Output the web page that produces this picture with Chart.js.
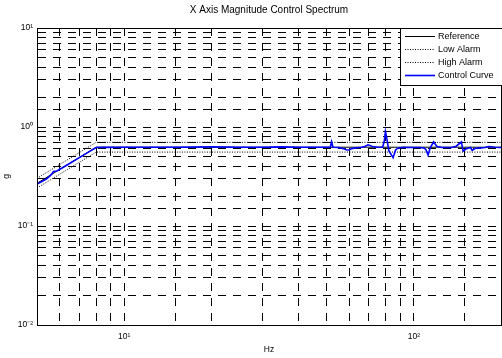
<!DOCTYPE html>
<html><head><meta charset="utf-8">
<style>html,body{margin:0;padding:0;background:#fff;overflow:hidden;}#wrap{width:502px;height:358px;overflow:hidden;}canvas{display:block;}</style>
<script src="https://cdn.jsdelivr.net/npm/chart.js@4/dist/chart.umd.min.js"></script>
</head><body><div id="wrap"><canvas id="c" width="508" height="358"></canvas></div>
<script>
const chartTitle = 'X Axis Magnitude Control Spectrum';
const xTitle = 'Hz';
const yTitle = 'g';
const seriesNames = ['Reference', 'Low Alarm', 'High Alarm', 'Control Curve'];
const xMajorLabels = {1: '10\u00B9', 2: '10\u00B2'};
const yMajorLabels = {1: '10\u00B9', 0: '10\u2070', '-1': '10\u207B\u00B9', '-2': '10\u207B\u00B2'};

const refHz  = [5, 8, 200];
const refG   = [0.27, 0.625, 0.625];
const lowHz  = [5, 8, 200];
const lowG   = [0.242, 0.558, 0.558];
const highHz = [5, 8, 200];
const highG  = [0.303, 0.70, 0.70];
const ctrlHz = [5.0, 5.2, 5.4, 5.6, 5.7, 5.85, 6.1, 6.5, 7.0, 7.5, 8.0, 8.5, 10, 12, 15, 20, 25, 30, 35, 40, 45, 50, 51.5, 52, 52.6, 55, 57, 58.6, 60, 61, 63, 66, 68, 69.5, 72, 75, 78, 79, 79.8, 80.6, 82, 84.8, 86.5, 88, 92, 100, 105, 108, 110, 112, 114, 117, 120, 125, 135, 140, 146, 148, 152, 157, 159, 163, 170, 176, 182, 190, 200];
const ctrlG  = [0.265, 0.282, 0.3, 0.33, 0.355, 0.36, 0.385, 0.43, 0.49, 0.555, 0.62, 0.622, 0.625, 0.625, 0.625, 0.63, 0.625, 0.625, 0.63, 0.625, 0.625, 0.625, 0.625, 0.71, 0.625, 0.62, 0.605, 0.585, 0.59, 0.605, 0.615, 0.625, 0.64, 0.66, 0.635, 0.625, 0.625, 0.71, 0.9, 0.78, 0.575, 0.49, 0.585, 0.61, 0.625, 0.62, 0.62, 0.615, 0.595, 0.52, 0.62, 0.705, 0.64, 0.62, 0.62, 0.64, 0.705, 0.57, 0.605, 0.62, 0.58, 0.61, 0.615, 0.62, 0.635, 0.625, 0.62];

const pts = (xs, ys) => xs.map((x, i) => ({x, y: ys[i]}));
const FONT = 'Liberation Sans, Arial, Helvetica, sans-serif';

function majorLabel(v, map) {
  const l = Math.log10(v);
  const r = Math.round(l);
  if (Math.abs(l - r) < 1e-9 && map[r] !== undefined) return map[r];
  return '';
}

const frameAndLegend = {
  id: 'frameAndLegend',
  afterDraw(chart) {
    const ctx = chart.ctx, a = chart.chartArea;
    ctx.save();
    ctx.strokeStyle = '#000';
    ctx.lineWidth = 1;
    ctx.setLineDash([]);
    ctx.strokeRect(Math.round(a.left) + 0.5, Math.round(a.top) + 0.5, Math.round(a.right - a.left), Math.round(a.bottom - a.top));
    const lx = 400, ly = 28, lw = 120, lh = 57;
    ctx.fillStyle = '#fff';
    ctx.fillRect(lx, ly, lw, lh);
    ctx.strokeRect(lx + 0.5, ly + 0.5, lw, lh);
    ctx.font = '9px ' + FONT;
    ctx.textBaseline = 'middle';
    ctx.textAlign = 'left';
    chart.data.datasets.forEach((ds, i) => {
      const y = ly + 8 + i * 13;
      ctx.beginPath();
      ctx.strokeStyle = ds.borderColor;
      ctx.lineWidth = ds.borderWidth;
      ctx.setLineDash(ds.borderDash || []);
      ctx.moveTo(405, Math.round(y) + 0.5);
      ctx.lineTo(435, Math.round(y) + 0.5);
      ctx.stroke();
      ctx.setLineDash([]);
      ctx.fillStyle = '#000';
      ctx.fillText(ds.label, 438, y + 0.5);
    });
    ctx.restore();
  }
};

new Chart(document.getElementById('c'), {
  type: 'line',
  data: {
    datasets: [
      {label: seriesNames[0], data: pts(refHz, refG), borderColor: '#000', borderWidth: 1, pointRadius: 0, order: 1},
      {label: seriesNames[1], data: pts(lowHz, lowG), borderColor: '#000', borderWidth: 1, borderDash: [1, 1.5], pointRadius: 0, order: 2},
      {label: seriesNames[2], data: pts(highHz, highG), borderColor: '#000', borderWidth: 1, borderDash: [1, 1.5], pointRadius: 0, order: 3},
      {label: seriesNames[3], data: pts(ctrlHz, ctrlG), borderColor: '#0000ff', borderWidth: 1.6, pointRadius: 0, order: 0}
    ]
  },
  options: {
    responsive: false,
    animation: false,
    devicePixelRatio: 1,
    layout: {padding: {left: 0, right: 2, top: 0, bottom: 0}},
    plugins: {
      legend: {display: false},
      tooltip: {enabled: false},
      title: {display: true, fullSize: false, text: chartTitle, color: '#000', font: {family: FONT, size: 10, weight: 'normal'}, padding: {top: 4, bottom: 12}}
    },
    scales: {
      x: {
        type: 'logarithmic', min: 5, max: 200,
        grid: {color: '#000', lineWidth: 1, drawTicks: false},
        border: {display: true, color: '#000', width: 1, dash: [8, 7]},
        ticks: {autoSkip: false, maxRotation: 0, padding: 7, color: '#000', font: {family: FONT, size: 8.5},
          callback: (v) => majorLabel(v, xMajorLabels)},
        title: {display: true, text: xTitle, color: '#000', font: {family: FONT, size: 8.5}, padding: {top: 2, bottom: 3}},
        afterFit: (s) => { s.height = 33; }
      },
      y: {
        type: 'logarithmic', min: 0.01, max: 10,
        grid: {color: '#000', lineWidth: 1, drawTicks: false},
        border: {display: true, color: '#000', width: 1, dash: [8, 7]},
        ticks: {autoSkip: false, padding: 4, color: '#000', font: {family: FONT, size: 8.5},
          callback: (v) => majorLabel(v, yMajorLabels)},
        title: {display: true, text: yTitle, color: '#000', font: {family: FONT, size: 8.5}, padding: {top: 2, bottom: 2}},
        afterFit: (s) => { s.width = 37; }
      }
    }
  },
  plugins: [frameAndLegend]
});
</script>
</body></html>
